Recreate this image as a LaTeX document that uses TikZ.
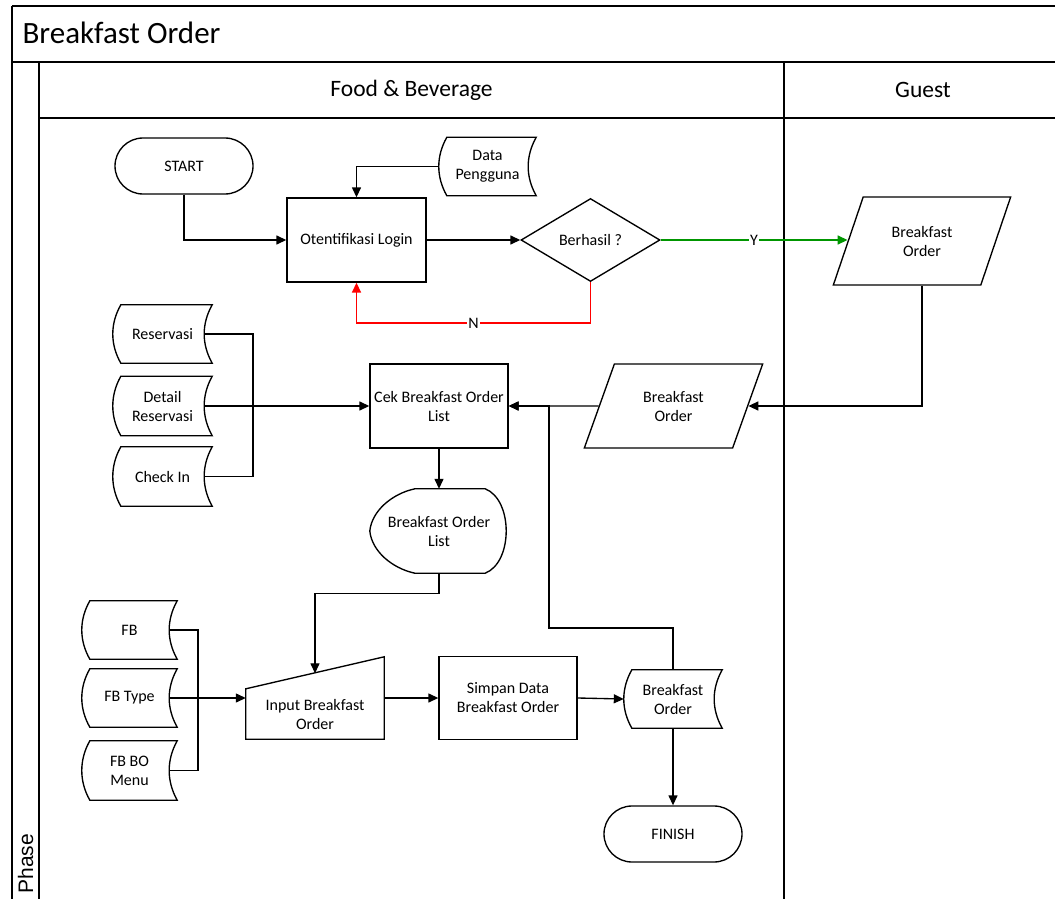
\documentclass[tikz,border=0pt]{standalone}
\usepackage{fontspec}
\setmainfont{Carlito}
\newfontfamily\phasefont{Liberation Sans}
\usetikzlibrary{shapes.geometric,arrows.meta,calc}

\definecolor{yesgreen}{RGB}{0,150,0}
\definecolor{nored}{RGB}{255,0,0}

% outline of a "stored data" symbol around a borderless node
\newcommand\storedshape[1]{%
  \draw[shapeline] ($(#1.north west)+(8,0)$) -- (#1.north east)
    .. controls ($(#1.north east)+(-10.7,19)$) and ($(#1.south east)+(-10.7,-19)$) .. (#1.south east)
    -- ($(#1.south west)+(8,0)$)
    .. controls ($(#1.south west)+(-2.7,-19)$) and ($(#1.north west)+(-2.7,19)$) .. cycle;}

\begin{document}
\begin{tikzpicture}[x=1pt,y=-1pt,
  font=\fontsize{16}{19}\selectfont,
  shapeline/.style={line width=1.35pt},
  base/.style={draw, line width=1.35pt, align=center, inner sep=0pt},
  proc/.style={base, rectangle, minimum width=138pt, minimum height=84pt},
  term/.style={base, rectangle, rounded corners=28pt, minimum width=138pt, minimum height=56pt},
  decide/.style={base, diamond, minimum width=139pt, minimum height=83pt},
  io/.style={base, trapezium, trapezium left angle=63, trapezium right angle=117,
             trapezium stretches=true, minimum width=179pt, minimum height=86pt},
  stdata/.style={align=center, inner sep=0pt, minimum height=58pt},
  flow/.style={line width=1.35pt, -{Triangle[length=10pt,width=9pt]}},
  wire/.style={line width=1.35pt},
  lane/.style={line width=1.7pt},
  tag/.style={fill=white, inner sep=1pt, text=black}
]
\useasboundingbox (0,0) rectangle (1055,899);
\clip (0,0) rectangle (1055,899);

% ---- pool and lanes ----
\draw[line width=2pt] (12,6) -- (1055,6);
\draw[line width=2pt] (12,6) -- (12,899);
\draw[lane] (12,62) -- (1055,62);
\draw[lane] (39,62) -- (39,899);
\draw[lane] (39,118) -- (1055,118);
\draw[lane] (784,62) -- (784,899);
\node[anchor=west, font=\fontsize{31}{35}\selectfont] (title) at (19,33) {Breakfast Order};
\node[font=\fontsize{23.5}{27}\selectfont] (fnb) at (411.5,90) {Food \& Beverage};
\node[font=\fontsize{23.5}{27}\selectfont] (guesthdr) at (923,90) {Guest};
\node[rotate=90, anchor=base west, font=\phasefont\fontsize{21}{24}\selectfont] (phase) at (33,897) {Phase};

% ---- Food & Beverage lane ----
\node[term] (start) at (184,166) {START};
\node[stdata, minimum width=97pt] (dp) at (487.5,166.5) {Data\\Pengguna};
\storedshape{dp}
\node[proc, minimum width=139pt] (auth) at (356.5,240) {Otentifikasi Login};
\node[decide] (dec) at (590.5,240) {Berhasil ?};

\node[stdata, minimum width=99pt] (res) at (162.5,334) {Reservasi};
\node[stdata, minimum width=99pt, minimum height=59pt] (dres) at (162.5,406) {Detail\\Reservasi};
\node[stdata, minimum width=99pt, minimum height=59pt] (chk) at (162.5,476.5) {Check In};
\storedshape{res}
\storedshape{dres}
\storedshape{chk}

\node[proc] (cek) at (439,406) {Cek Breakfast Order\\List};
\node[io, minimum height=84pt] (bof) at (673.5,406) {Breakfast\\Order};

% display symbol
\node[align=center, inner sep=0pt, minimum width=138pt, minimum height=84pt] (disp) at (439,531) {Breakfast Order\\List};
\draw[shapeline] ($(disp.north west)+(45,0)$) -- ($(disp.north east)+(-23,0)$)
  .. controls ($(disp.north east)+(5,11)$) and ($(disp.south east)+(5,-11)$) .. ($(disp.south east)+(-23,0)$)
  -- ($(disp.south west)+(45,0)$)
  .. controls ($(disp.south west)+(22,-5)$) and ($(disp.west)+(2,20)$) .. (disp.west)
  .. controls ($(disp.west)+(2,-20)$) and ($(disp.north west)+(22,5)$) .. cycle;

\node[stdata, minimum width=95pt] (fb) at (129.5,630) {FB};
\node[stdata, minimum width=95pt] (fbt) at (129.5,698) {FB Type};
\node[stdata, minimum width=95pt, minimum height=59pt] (fbbo) at (129.5,770.5) {FB BO\\Menu};
\storedshape{fb}
\storedshape{fbt}
\storedshape{fbbo}

% manual input symbol
\node[align=center, inner sep=0pt, minimum width=138pt, minimum height=50pt] (inp) at (315,714) {Input Breakfast\\Order};
\draw[shapeline] (inp.south west) -- (inp.south east) -- ($(inp.north east)+(0,-32)$) -- (inp.north west) -- cycle;

\node[proc, minimum height=83pt] (simpan) at (508,698) {Simpan Data\\Breakfast Order};
\node[stdata, minimum width=98pt] (bodata) at (673,699) {Breakfast\\Order};
\storedshape{bodata}
\node[term] (finish) at (673,834) {FINISH};

% ---- Guest lane ----
\node[io, minimum width=178pt, minimum height=88pt] (guest) at (922,241) {Breakfast\\Order};

% ---- connectors ----
\coordinate (jn) at (253,406);
\coordinate (fbjn) at (198,698);
\coordinate (bk) at (549,628);

\draw[flow] (start.south) |- (auth.west);
\draw[flow] (dp.west) -| (auth.north);
\draw[flow] (auth) -- (dec);
\draw[flow, color=yesgreen, line width=1.5pt] (dec.east) -- node[tag, pos=0.5]{Y} (dec.east -| guest.west);
\draw[flow, color=nored, line width=1.5pt] (dec.south) -- ++(0,41) -| node[tag, pos=0.25]{N} (auth.south);
\draw[flow] (guest.south) |- (bof);
\draw[flow] (bof) -- (cek);

\draw[wire] ($(res.east)+(-8,0)$) -| (jn);
\draw[wire] ($(chk.east)+(-8,0)$) -| (jn);
\draw[flow] ($(dres.east)+(-8,0)$) -- (cek.west);

\draw[flow] (cek.south) -- (disp.north);
\draw[flow] (disp.south) -- ++(0,20) -| ($(inp.north)+(0,-15.5)$);

\draw[wire] ($(fb.east)+(-8,0)$) -| (fbjn);
\draw[wire] ($(fbbo.east)+(-8,0)$) -| (fbjn);
\draw[flow] ($(fbt.east)+(-8,0)$) -- (fbt -| inp.west);

\draw[flow] (simpan -| inp.east) -- (simpan.west);
\draw[flow] (simpan.east) -- (bodata.west);
\draw[flow] (bodata.north) |- (bk) |- (cek.east);
\draw[flow] (bodata.south) -- (finish.north);
\end{tikzpicture}
\end{document}
